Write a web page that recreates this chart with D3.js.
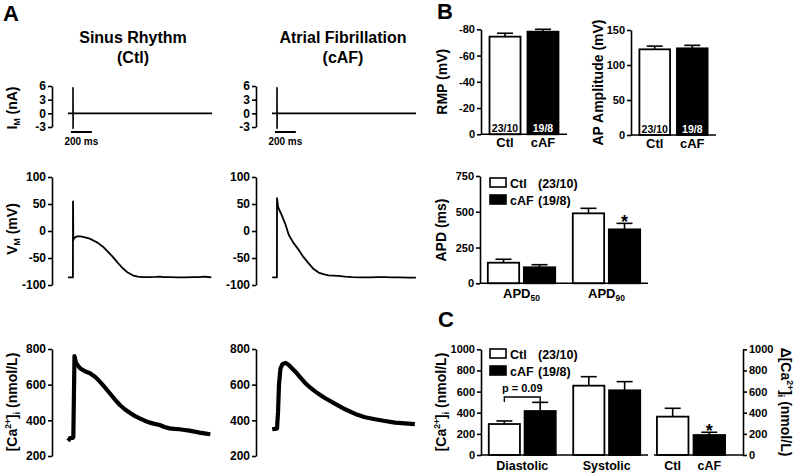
<!DOCTYPE html>
<html><head><meta charset="utf-8">
<script src="https://cdn.jsdelivr.net/npm/d3@7"></script>
<style>
body{margin:0;background:#fff;}
svg{font-family:"Liberation Sans",Arial,Helvetica,sans-serif;font-weight:bold;}
</style></head><body>
<svg id="c" width="800" height="473"></svg>
<script>
// ---------------- DATA ----------------
const timeDomain = [-48, 1330];           // ms
const scaleBarMs = [-20, 180];            // 200 ms bar

const imTicks = [-3, 0, 3, 6];
const vmTicks = [-100, -50, 0, 50, 100];
const caTicks = [200, 400, 600, 800];

// membrane current (nA): [t ms, value]
const imCtl = [[-48,0],[-0.5,0],[0,5.6],[0.6,-3.3],[1.2,0],[1330,0]];
const imCaf = [[-48,0],[-0.5,0],[0,5.6],[0.6,-3.3],[1.2,0],[1330,0]];

// membrane potential (mV)
const vmCtl = [[-48,-86],[-5,-86],[-1,-86],[0,55],[3,-17],[8,-14],[19,-12],[38,-10],[70,-10],[95,-11],[143,-13],
  [190,-17],[238,-22],[286,-29],[333,-38],[381,-48],[429,-59],[476,-69],[524,-77],[571,-82],[619,-84.5],
  [667,-85.5],[733,-85.5],[790,-85],[829,-84.3],[870,-85.3],[924,-85.5],[1000,-85.8],[1067,-86],[1150,-85.6],
  [1210,-85.5],[1257,-84.6],[1290,-85.2],[1324,-86]];
const vmCaf = [[-46,-86],[-5,-86],[-1,-86],[0,61],[10,45],[24,38],[50,27],[81,12],[112,-7],[157,-22],[208,-35],
  [252,-48],[303,-60],[348,-70],[398,-77],[443,-80],[493,-82],[540,-82.5],[586,-83],[652,-84.5],[719,-85.5],
  [800,-85.8],[890,-86],[960,-85.6],[1033,-85.5],[1100,-86],[1176,-86],[1250,-86.2],[1329,-86.5]];

// calcium transients (nmol/L)
const caCtl = [[-48,285],[-40,290],[-29,300],[-3,302],[3,305],[14,760],[29,722],[67,692],[114,675],[162,664],[210,645],
  [257,617],[305,585],[352,552],[400,518],[448,486],[495,462],[543,443],[590,425],[638,411],[686,398],
  [733,387],[781,380],[829,374],[876,363],[924,355],[971,352],[1019,350],[1067,346],[1114,342],[1162,337],
  [1210,331],[1257,327],[1314,322]];
const caCaf = [[-46,350],[-20,352],[0,355],[10,450],[19,600],[33,690],[52,715],[81,722],[110,712],[176,673],
  [224,640],[271,608],[319,583],[367,561],[414,542],[462,524],[557,492],[652,462],[748,436],[843,417],
  [938,406],[1033,396],[1129,387],[1224,383],[1319,379]];

// Panel B
const groups2 = ["Ctl", "cAF"];
const nLabels = ["23/10", "19/8"];
const rmpMean = [-74.4, -78.2];
const rmpSem  = [2.6, 1.8];
const rmpTicks = [0, -20, -40, -60, -80];
const ampMean = [122.4, 123.8];
const ampSem  = [4.6, 4.3];
const ampTicks = [0, 50, 100, 150];

const apdGroups = ["APD50", "APD90"];
const apdCtl = [144, 489];
const apdCtlSem = [24, 35];
const apdCaf = [112, 377];
const apdCafSem = [18, 42];
const apdTicks = [0, 250, 500, 750];
const apdSig = [false, true];

// Panel C
const caGroups = ["Diastolic", "Systolic"];
const caCtlMean = [293, 656];
const caCtlSem  = [29, 85];
const caCafMean = [416, 612];
const caCafSem  = [82, 82];
const caBarTicks = [0, 200, 400, 600, 800, 1000];
const dCaMean = [363, 189];
const dCaSem  = [79, 26];
const dCaSig  = [false, true];

// ---------------- DRAW ----------------
const svg = d3.select("#c");
const F = '"Liberation Sans",Arial,Helvetica,sans-serif';

function txt(x, y, s, size, anchor) {
  return svg.append("text").attr("x", x).attr("y", y).attr("font-size", size)
    .attr("font-family", F).attr("font-weight", "bold").attr("text-anchor", anchor || "start").attr("fill", "#000").text(s);
}
function styleAxis(a, fs) {
  a.select(".domain").attr("stroke", "#000").attr("stroke-width", 1.6);
  a.selectAll(".tick line").attr("stroke", "#000").attr("stroke-width", 1.6);
  a.selectAll("text").attr("font-size", fs).attr("font-weight", "bold").attr("font-family", F).attr("fill", "#000");
}
function yAxisLeft(x, scale, ticks, fs) {
  const a = svg.append("g").attr("transform", `translate(${x},0)`)
    .call(d3.axisLeft(scale).tickValues(ticks).tickSize(4).tickSizeOuter(0).tickPadding(2).tickFormat(d => String(d)));
  styleAxis(a, fs);
  return a;
}
function yAxisRight(x, scale, ticks, fs) {
  const a = svg.append("g").attr("transform", `translate(${x},0)`)
    .call(d3.axisRight(scale).tickValues(ticks).tickSize(4).tickSizeOuter(0).tickPadding(2).tickFormat(d => String(d)));
  styleAxis(a, fs);
  return a;
}
function rotLabel(x, y, angle, parts, size) {
  const t = svg.append("text").attr("transform", `translate(${x},${y}) rotate(${angle})`)
    .attr("text-anchor", "middle").attr("font-size", size).attr("font-family", F).attr("font-weight", "bold").attr("fill", "#000");
  parts.forEach(p => {
    const s = t.append("tspan").text(p[0]);
    if (p[1] === "sub") s.attr("font-size", size * 0.62).attr("dy", 3);
    if (p[1] === "sup") s.attr("font-size", size * 0.62).attr("dy", -6);
    if (p[1] === "back") s.attr("dy", -3);
    if (p[1] === "backup") s.attr("dy", 6);
  });
  return t;
}

// ---- Panel A ----
txt(3, 21, "A", 22);
txt(133, 43, "Sinus Rhythm", 16, "middle");
txt(133, 63, "(Ctl)", 16, "middle");
txt(343, 43, "Atrial Fibrillation", 16, "middle");
txt(343, 63, "(cAF)", 16, "middle");

const yIm = d3.scaleLinear().domain([-3, 6]).range([127, 86]);
const yVm = d3.scaleLinear().domain([-100, 100]).range([285, 177]);
const yCa = d3.scaleLinear().domain([200, 800]).range([456, 349]);

function tracePanel(axisX, yScale, ticks, data, sw, bar) {
  const x = d3.scaleLinear().domain(timeDomain).range([axisX + 16, axisX + 160]);
  yAxisLeft(axisX, yScale, ticks, 12);
  svg.append("path").datum(data)
    .attr("d", d3.line().x(d => x(d[0])).y(d => yScale(d[1])))
    .attr("fill", "none").attr("stroke", "#000").attr("stroke-width", sw).attr("stroke-linejoin", "round");
  if (bar) {
    svg.append("line").attr("x1", x(scaleBarMs[0])).attr("x2", x(scaleBarMs[1]))
      .attr("y1", 132).attr("y2", 132).attr("stroke", "#000").attr("stroke-width", 2);
    txt((x(scaleBarMs[0]) + x(scaleBarMs[1])) / 2, 145, "200 ms", 10, "middle");
  }
}
tracePanel(52, yIm, imTicks, imCtl, 1.6, true);
tracePanel(256, yIm, imTicks, imCaf, 1.6, true);
tracePanel(52, yVm, vmTicks, vmCtl, 1.8, false);
tracePanel(256, yVm, vmTicks, vmCaf, 1.8, false);
tracePanel(52, yCa, caTicks, caCtl, 4.2, false);
tracePanel(256, yCa, caTicks, caCaf, 4.2, false);

rotLabel(17, 108, -90, [["I"], ["M", "sub"], [" (nA)", "back"]], 14);
rotLabel(17, 229, -90, [["V"], ["M", "sub"], [" (mV)", "back"]], 14);
rotLabel(17, 402, -90, [["[Ca"], ["2+", "sup"], ["]", "backup"], ["i", "sub"], [" (nmol/L)", "back"]], 14);

// ---- bar helpers ----
function bar(x, w, y0, y1, black) {
  svg.append("rect").attr("x", x).attr("y", Math.min(y0, y1)).attr("width", w).attr("height", Math.abs(y1 - y0))
    .attr("fill", black ? "#000" : "#fff").attr("stroke", "#000").attr("stroke-width", 1.8);
}
function err(cx, yTop, yErr) {
  svg.append("line").attr("x1", cx).attr("x2", cx).attr("y1", yTop).attr("y2", yErr).attr("stroke", "#000").attr("stroke-width", 1.6);
  svg.append("line").attr("x1", cx - 8).attr("x2", cx + 8).attr("y1", yErr).attr("y2", yErr).attr("stroke", "#000").attr("stroke-width", 1.6);
}
function star(cx, e) {
  txt(cx, e + 5, "*", 18, "middle");
}
function xLine(x1, x2, y) {
  svg.append("line").attr("x1", x1).attr("x2", x2).attr("y1", y).attr("y2", y).attr("stroke", "#000").attr("stroke-width", 1.6);
}
function legend(x, y) {
  svg.append("rect").attr("x", x).attr("y", y).attr("width", 16).attr("height", 9).attr("fill", "#fff").attr("stroke", "#000").attr("stroke-width", 1.6);
  svg.append("rect").attr("x", x).attr("y", y + 17).attr("width", 16).attr("height", 9).attr("fill", "#000").attr("stroke", "#000").attr("stroke-width", 1.6);
  txt(x + 20, y + 10, groups2[0], 12.5);
  txt(x + 48, y + 10, "(" + nLabels[0] + ")", 12.5);
  txt(x + 20, y + 27, groups2[1], 12.5);
  txt(x + 48, y + 27, "(" + nLabels[1] + ")", 12.5);
}

// ---- Panel B ----
txt(437, 19, "B", 22);

function twoBarChart(axisX, axisEnd, yScale, ticks, mean, sem, labelX, labelParts) {
  const xb = d3.scaleBand().domain(groups2).range([axisX, axisEnd]).paddingInner(0.184).paddingOuter(0.224);
  const y0 = yScale(0);
  groups2.forEach((g, i) => {
    const cx = xb(g) + xb.bandwidth() / 2;
    const top = yScale(mean[i]);
    const e = yScale(mean[i] + (mean[i] < 0 ? -sem[i] : sem[i]));
    err(cx, top, e);
    bar(xb(g), xb.bandwidth(), y0, top, i === 1);
    txt(cx, y0 - 2.5, nLabels[i], 10.5, "middle").attr("fill", i === 1 ? "#fff" : "#000");
    txt(cx, y0 + 13, g, 13, "middle");
  });
  xLine(axisX, axisEnd, y0);
  yAxisLeft(axisX, yScale, ticks, 11);
  rotLabel(labelX, (yScale.range()[0] + yScale.range()[1]) / 2, -90, labelParts, 14);
}
const yRmp = d3.scaleLinear().domain([0, -80]).range([134.3, 29.3]);
twoBarChart(481, 567, yRmp, rmpTicks, rmpMean, rmpSem, 447, [["RMP (mV)"]]);
const yAmp = d3.scaleLinear().domain([0, 150]).range([135, 30]);
twoBarChart(631, 716, yAmp, ampTicks, ampMean, ampSem, 603, [["AP Amplitude (mV)"]]);

// grouped chart helper
function groupedChart(axisX, axisEnd, yScale, ticks, groups, ctl, ctlSem, caf, cafSem) {
  const x0 = d3.scaleBand().domain(groups).range([axisX, axisEnd]).paddingInner(0.207).paddingOuter(0.092);
  const x1 = d3.scaleBand().domain(groups2).range([0, x0.bandwidth()]).paddingInner(0.13);
  const y0 = yScale(0);
  const pos = [];
  groups.forEach((g, gi) => {
    [[ctl, ctlSem], [caf, cafSem]].forEach((s, si) => {
      const bx = x0(g) + x1(groups2[si]);
      const cx = bx + x1.bandwidth() / 2;
      const top = yScale(s[0][gi]);
      const e = yScale(s[0][gi] + s[1][gi]);
      err(cx, top, e);
      bar(bx, x1.bandwidth(), y0, top, si === 1);
      pos.push({ g: gi, s: si, cx: cx, top: top, e: e });
    });
  });
  xLine(axisX, axisEnd, y0);
  yAxisLeft(axisX, yScale, ticks, 11);
  return { x0: x0, pos: pos, y0: y0 };
}

const yApd = d3.scaleLinear().domain([0, 750]).range([283.3, 176]);
const apd = groupedChart(480, 648, yApd, apdTicks, apdGroups, apdCtl, apdCtlSem, apdCaf, apdCafSem);
apdGroups.forEach((g, gi) => {
  const cx = apd.x0(g) + apd.x0.bandwidth() / 2;
  const t = txt(cx, 298, "APD", 13, "middle");
  t.append("tspan").attr("font-size", 8.5).attr("dy", 3).text(g.slice(3));
});
apd.pos.filter(p => p.s === 1 && apdSig[p.g]).forEach(p => star(p.cx, p.e));
legend(490, 178);
rotLabel(446, 230, -90, [["APD (ms)"]], 14);

// ---- Panel C ----
txt(438, 327, "C", 22);
const yCaBar = d3.scaleLinear().domain([0, 1000]).range([455, 349.3]);
const cc = groupedChart(481, 648, yCaBar, caBarTicks, caGroups, caCtlMean, caCtlSem, caCafMean, caCafSem);
caGroups.forEach(g => txt(cc.x0(g) + cc.x0.bandwidth() / 2, 470, g, 12.5, "middle"));
legend(490, 349);
rotLabel(446, 402, -90, [["[Ca"], ["2+", "sup"], ["]", "backup"], ["i", "sub"], [" (nmol/L)", "back"]], 14);

// p-value bracket
const pA = cc.pos.find(p => p.g === 0 && p.s === 0), pB = cc.pos.find(p => p.g === 0 && p.s === 1);
svg.append("path").attr("d", `M${pA.cx},402 V397 H${pB.cx} V402`).attr("fill", "none").attr("stroke", "#000").attr("stroke-width", 1.4);
txt((pA.cx + pB.cx) / 2, 392, "p = 0.09", 11, "middle");

// delta Ca chart (right axis)
const xd = d3.scaleBand().domain(groups2).range([654, 728]).paddingInner(0.139).paddingOuter(0.08);
groups2.forEach((g, i) => {
  const cx = xd(g) + xd.bandwidth() / 2;
  const top = yCaBar(dCaMean[i]);
  const e = yCaBar(dCaMean[i] + dCaSem[i]);
  err(cx, top, e);
  bar(xd(g), xd.bandwidth(), yCaBar(0), top, i === 1);
  txt(cx, 470, g, 12.5, "middle");
  if (dCaSig[i]) star(cx, e);
});
xLine(654, 743, yCaBar(0));
yAxisRight(743, yCaBar, caBarTicks, 11);
rotLabel(781, 402, 90, [["Δ[Ca"], ["2+", "sup"], ["]", "backup"], ["i", "sub"], [" (nmol/L)", "back"]], 14);
</script>
</body></html>
